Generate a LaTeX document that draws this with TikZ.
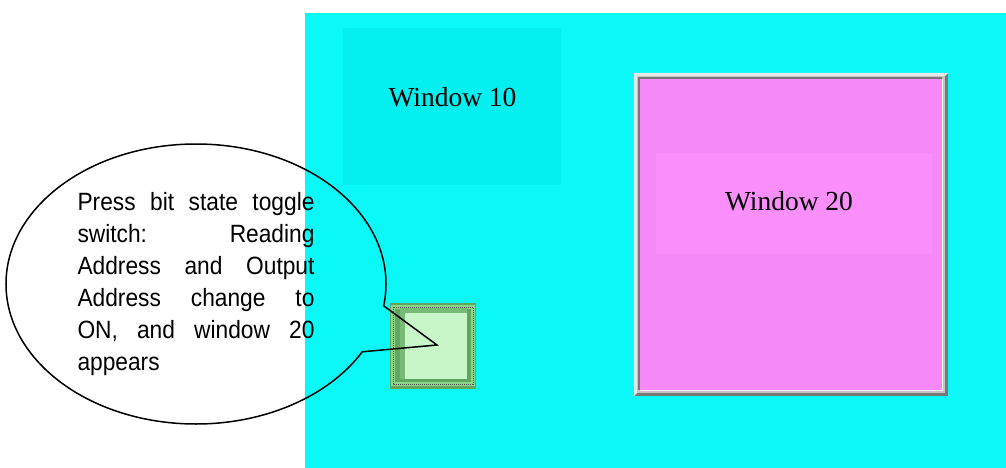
\documentclass[tikz,border=0pt]{standalone}
\usepackage{fontspec}
\setmainfont{Liberation Serif}
\setsansfont[FakeStretch=0.91]{Liberation Sans}
\usetikzlibrary{shapes.callouts, calc}

\definecolor{screencyan}{RGB}{10,248,248}
\definecolor{wincyan}{RGB}{4,239,239}
\definecolor{winpink}{RGB}{247,136,247}
\definecolor{winpinklt}{RGB}{250,142,250}
\definecolor{bevlight}{RGB}{232,232,232}
\definecolor{bevmid}{RGB}{196,196,196}
\definecolor{bevdark}{RGB}{120,120,120}
\definecolor{btnedge}{RGB}{96,166,96}
\definecolor{btnring}{RGB}{140,214,140}
\definecolor{btnface}{RGB}{200,246,200}
\definecolor{btnshade}{RGB}{118,186,118}

\begin{document}
\begin{tikzpicture}[x=1pt, y=-1pt,
        box/.style={rectangle, inner sep=0pt},
        wintext/.style={inner sep=0pt, font=\fontsize{27.5}{30}\selectfont},
        note/.style={ellipse callout, draw, line width=1.5pt, inner sep=0pt,
                     minimum width=380pt, minimum height=280pt,
                     text width=237pt, align=justify,
                     font=\sffamily\fontsize{25}{32}\selectfont,
                     callout pointer arc=20},
    ]
    \useasboundingbox (0,0) rectangle (1006,468);

    % screen background
    \node[box, fill=screencyan, minimum width=701pt, minimum height=455pt] (screen) at (655.5,240.5) {};

    % window 10
    \node[box, fill=wincyan, minimum width=218pt, minimum height=157pt] (w10box) at (452,106.5) {};
    \node[wintext] (w10) at (452.5,97) {Window 10};

    % window 20 with bevelled frame
    \node[box, fill=bevdark, minimum width=314pt, minimum height=323pt] (w20frame) at (791,234.5) {};
    \fill[bevlight] (w20frame.south west) -- (w20frame.north west) -- (w20frame.north east)
        -- ($(w20frame.north east)+(-3pt,-3pt)$) -- ($(w20frame.north west)+(3pt,-3pt)$)
        -- ($(w20frame.south west)+(3pt,3pt)$) -- cycle;
    \fill[bevmid] ($(w20frame.south west)+(3pt,3pt)$) rectangle ($(w20frame.north east)+(-3pt,-3pt)$);
    \node[box, fill=winpink, minimum width=302pt, minimum height=311pt] (w20) at (791,234.5) {};
    \draw[bevdark, line width=1.5pt] ($(w20.south west)+(-0.75pt,0pt)$) -- ($(w20.north west)+(-0.75pt,0.75pt)$) -- ($(w20.north east)+(0pt,0.75pt)$);
    \draw[white, line width=1pt] ($(w20.south west)+(0pt,-0.5pt)$) -- ($(w20.south east)+(0.5pt,-0.5pt)$) -- ($(w20.north east)+(0.5pt,0pt)$);
    \node[box, fill=winpinklt, minimum width=276pt, minimum height=101pt] (w20box) at (794,203.5) {};
    \node[wintext] (w20txt) at (789,201) {Window 20};

    % toggle switch button
    \node[box, fill=btnedge, minimum width=86pt, minimum height=86pt] (btn) at (433,346) {};
    \draw[btnring, line width=3.5pt] (393,307) rectangle (473,384);
    \draw[black!70, line width=1pt, densely dotted] (393,307) rectangle (473,384);
    \node[box, fill=btnface, minimum width=67pt, minimum height=71pt] (btnface) at (433.5,343.5) {};
    \fill[btnshade] (btnface.north west) rectangle ($(btnface.north east)+(0pt,-5pt)$);
    \fill[btnshade] (btnface.north west) rectangle ($(btnface.south west)+(5pt,0pt)$);

    % callout
    \node[note, callout absolute pointer={(437,345)}] (hint) at (196,284)
        {Press bit state toggle\linebreak switch: Reading\linebreak Address and Output\linebreak
         Address change to\linebreak ON, and window 20\linebreak appears};
\end{tikzpicture}
\end{document}
